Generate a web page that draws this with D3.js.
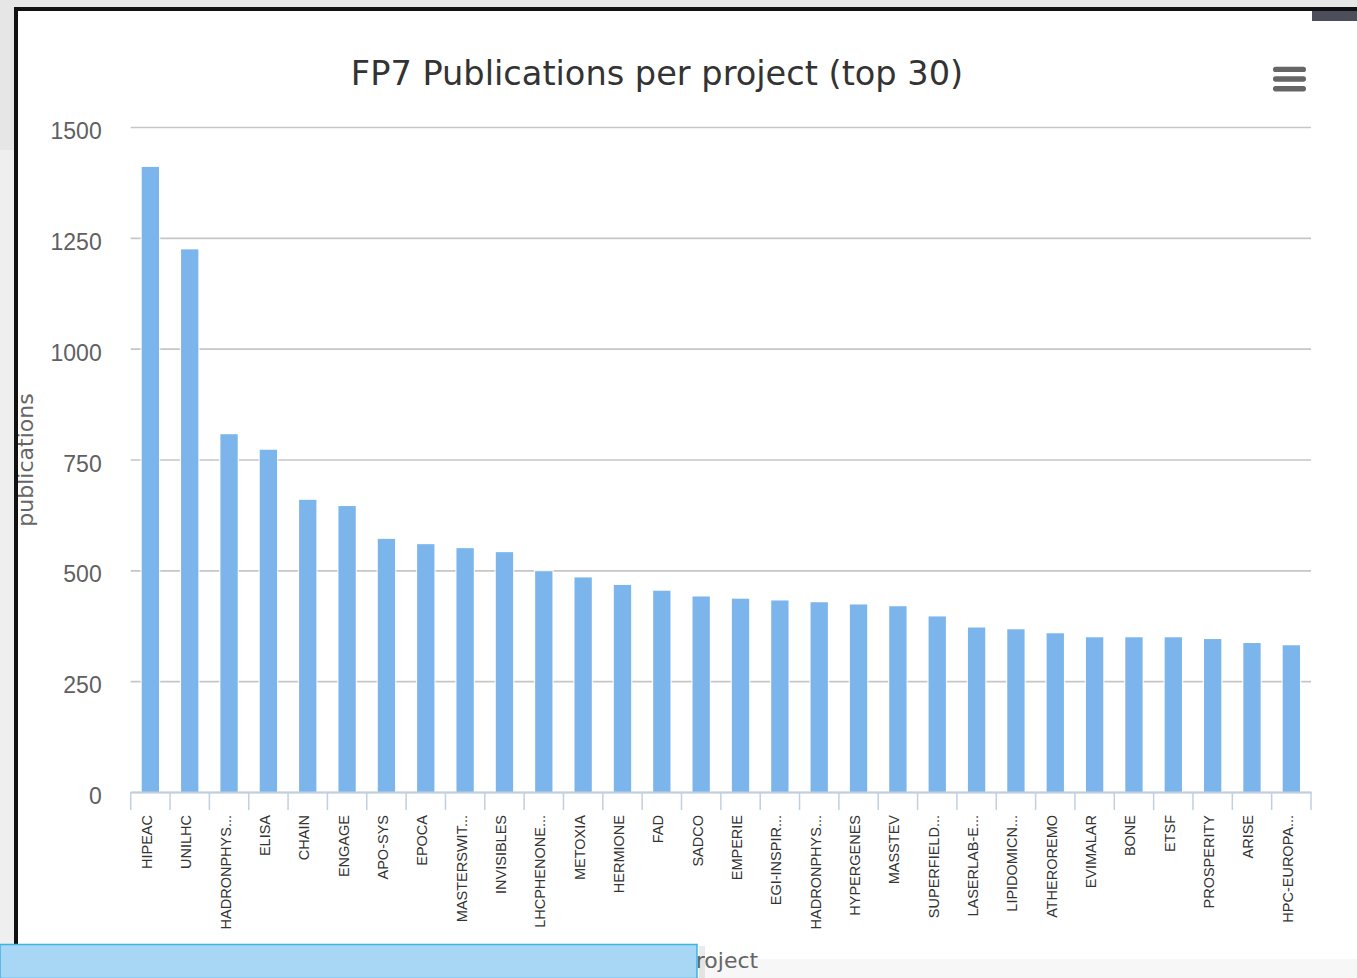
<!DOCTYPE html>
<html>
<head>
<meta charset="utf-8">
<script src="https://cdn.jsdelivr.net/npm/d3@7"></script>
<style>
  body { margin: 0; overflow: hidden; background: #e8e8e8; }
  svg { display: block; font-family: 'Lucida Grande', 'DejaVu Sans', sans-serif; }
</style>
</head>
<body>
<svg id="chart" width="1357" height="978"></svg>
<script>
const projects = [
  'HIPEAC', 'UNILHC', 'HADRONPHYS...', 'ELISA', 'CHAIN', 'ENGAGE', 'APO-SYS', 'EPOCA',
  'MASTERSWIT...', 'INVISIBLES', 'LHCPHENONE...', 'METOXIA', 'HERMIONE', 'FAD', 'SADCO',
  'EMPERIE', 'EGI-INSPIR...', 'HADRONPHYS... ', 'HYPERGENES', 'MASSTEV', 'SUPERFIELD...',
  'LASERLAB-E...', 'LIPIDOMICN...', 'ATHEROREMO', 'EVIMALAR', 'BONE', 'ETSF', 'PROSPERITY',
  'ARISE', 'HPC-EUROPA...'
]
const publications = [
  1410, 1224, 807, 772, 659, 645, 571, 559,
  550, 541, 498, 484, 467, 454, 441,
  436, 432, 428, 423, 419, 396,
  371, 367, 358, 349, 349, 349, 345,
  336, 331
]
const yTicks = [0, 250, 500, 750, 1000, 1250, 1500]

const svg = d3.select('#chart')

// page around the chart frame
svg.append('rect').attr('width', 1357).attr('height', 978).attr('fill', '#e6e6e6')
svg.append('rect').attr('x', 0).attr('y', 150).attr('width', 15).attr('height', 828).attr('fill', '#efefef')
svg.append('rect').attr('x', 18).attr('y', 11).attr('width', 1339).attr('height', 967).attr('fill', '#fff')

const x = d3.scaleBand().domain(projects).range([130.7, 1311]).padding(0)
const y = d3.scaleLinear().domain([0, 1500]).range([792, 127])

// gridlines + y labels
const yAxis = svg.append('g')
  .attr('transform', 'translate(130.7,0)')
  .call(d3.axisLeft(y).tickValues(yTicks).tickFormat(d3.format('d')).tickSize(-(1311 - 130.7)).tickPadding(29))
yAxis.select('.domain').remove()
yAxis.selectAll('.tick line')
  .attr('stroke', '#c6c6c6')
  .attr('stroke-width', 1.6)
yAxis.selectAll('.tick text')
  .attr('fill', '#606060')
  .attr('font-size', '23px')
  .attr('dy', '0.5em')

// columns with a white edge like the original
const barW = x.bandwidth() * 0.44
svg.append('g')
  .selectAll('rect')
  .data(publications)
  .join('rect')
  .attr('x', (d, i) => x(projects[i]) + (x.bandwidth() - barW) / 2)
  .attr('y', d => y(d))
  .attr('width', barW)
  .attr('height', d => y(0) - y(d))
  .attr('fill', '#7cb5ec')
  .attr('stroke', '#fff')
  .attr('stroke-opacity', 0.8)
  .attr('stroke-width', 2.5)
  .attr('paint-order', 'stroke')

// x axis, ticks sit on the band edges
const xAxis = svg.append('g')
  .attr('transform', 'translate(0,792)')
  .call(d3.axisBottom(x).tickSize(0).tickSizeOuter(0).tickPadding(0))
xAxis.select('.domain')
  .attr('stroke', '#c0d0e0')
  .attr('stroke-width', 2)
xAxis.selectAll('.tick text')
  .attr('transform', 'rotate(-90)')
  .attr('text-anchor', 'end')
  .attr('x', -23)
  .attr('y', 1.5)
  .attr('dy', 0)
  .attr('fill', '#333')
  .attr('font-size', '14.5px')

const edges = projects.map(p => x(p)).concat([x.range()[1]])
svg.append('g')
  .selectAll('line')
  .data(edges)
  .join('line')
  .attr('x1', d => d)
  .attr('x2', d => d)
  .attr('y1', 792)
  .attr('y2', 810)
  .attr('stroke', '#c0d0e0')
  .attr('stroke-width', 1.5)

// title and menu button
svg.append('text')
  .attr('x', 657)
  .attr('y', 85)
  .attr('text-anchor', 'middle')
  .attr('fill', '#333')
  .attr('font-size', '33.6px')
  .text('FP7 Publications per project (top 30)')

svg.append('g')
  .selectAll('rect')
  .data([66.7, 76.3, 86])
  .join('rect')
  .attr('x', 1273)
  .attr('y', d => d)
  .attr('width', 33)
  .attr('height', 5.4)
  .attr('rx', 2.6)
  .attr('fill', '#666')

// axis titles
svg.append('text')
  .attr('transform', 'translate(33,460) rotate(-90)')
  .attr('text-anchor', 'middle')
  .attr('fill', '#666')
  .attr('font-size', '22px')
  .text('publications')

svg.append('rect').attr('x', 697).attr('y', 959).attr('width', 660).attr('height', 19).attr('fill', '#f7f7f7')

svg.append('text')
  .attr('x', 720)
  .attr('y', 968)
  .attr('text-anchor', 'middle')
  .attr('fill', '#666')
  .attr('font-size', '22px')
  .text('project')

// frame bits from the screenshot
svg.append('rect').attr('x', 14).attr('y', 7).attr('width', 4).attr('height', 971).attr('fill', '#111')
svg.append('rect').attr('x', 14).attr('y', 7).attr('width', 1343).attr('height', 4).attr('fill', '#111')
svg.append('rect').attr('x', 1312).attr('y', 11).attr('width', 45).attr('height', 10).attr('fill', '#4d4d5c')

svg.append('rect').attr('x', 699).attr('y', 946).attr('width', 6).attr('height', 32).attr('fill', '#000').attr('opacity', 0.08)
svg.append('rect')
  .attr('x', 0)
  .attr('y', 944.5)
  .attr('width', 697)
  .attr('height', 34)
  .attr('fill', '#a8d7f5')
  .attr('stroke', '#3bb4e0')
  .attr('stroke-width', 1.5)
</script>
</body>
</html>
